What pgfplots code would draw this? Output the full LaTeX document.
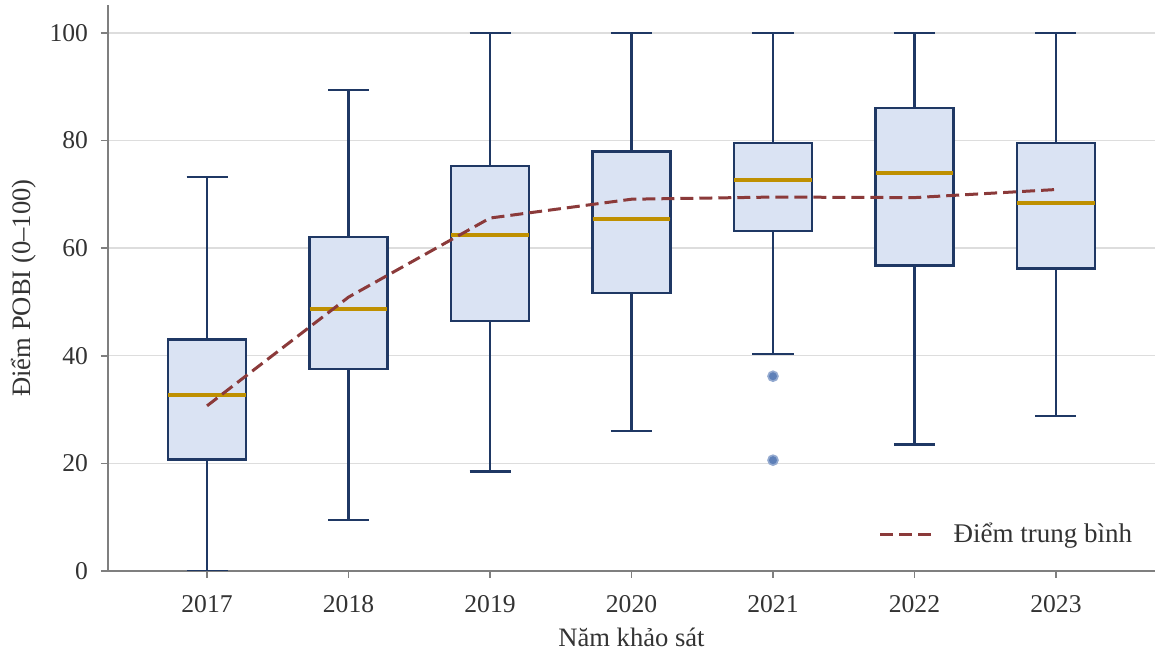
\documentclass[border=0pt]{standalone}
\usepackage{pgfplots}
\pgfplotsset{compat=1.18}
\usepgfplotslibrary{statistics}
\usepackage{fontspec}
\setmainfont{Liberation Serif}

\definecolor{boxedge}{HTML}{1F3864}
\definecolor{boxfill}{HTML}{DAE3F3}
\definecolor{medcol}{HTML}{BF9000}
\definecolor{meancol}{HTML}{8B3A3A}
\definecolor{outcol}{HTML}{4C72B0}
\definecolor{spine}{HTML}{7F7F7F}
\definecolor{txt}{HTML}{333333}
\definecolor{gridc}{HTML}{DDDDDD}

% box statistics per survey year: pos, lw, q1, med, q3, uw
\pgfplotstableread{
pos lw   q1   med  q3   uw
0   0.0  20.7 32.8 43.0 73.3
1   9.5  37.5 48.7 62.1 89.4
2   18.5 46.5 62.5 75.3 100
3   26.0 51.7 65.5 78.0 100
4   40.4 63.2 72.6 79.6 100
5   23.5 56.8 74.0 86.1 100
6   28.8 56.2 68.4 79.6 100
}\boxdata

\newcommand{\yearbox}[1]{%
  \pgfplotstablegetelem{#1}{lw}\of\boxdata \let\LW\pgfplotsretval
  \pgfplotstablegetelem{#1}{q1}\of\boxdata \let\QA\pgfplotsretval
  \pgfplotstablegetelem{#1}{med}\of\boxdata \let\MD\pgfplotsretval
  \pgfplotstablegetelem{#1}{q3}\of\boxdata \let\QC\pgfplotsretval
  \pgfplotstablegetelem{#1}{uw}\of\boxdata \let\UW\pgfplotsretval
  \edef\tmp{\noexpand\addplot[boxstyle, boxplot prepared={
      draw position=#1, lower whisker=\LW, lower quartile=\QA,
      median=\MD, upper quartile=\QC, upper whisker=\UW}] coordinates {};}%
  \tmp
}

\begin{document}
\begin{tikzpicture}[x=1pt,y=1pt]
\begin{axis}[
  at={(54pt,40.5pt)}, anchor=south west,
  scale only axis, width=523.5pt, height=283pt,
  xmin=-0.7, xmax=6.7, ymin=0, ymax=105.2,
  axis x line*=bottom, axis y line*=left,
  axis line style={-, draw=spine, line width=0.8pt},
  xtick={0,...,6},
  xticklabels={2017,2018,2019,2020,2021,2022,2023},
  ytick={0,20,40,60,80,100},
  tick align=outside, major tick length=3.5pt,
  tick style={draw=spine, line width=0.8pt},
  ymajorgrids, grid style={draw=gridc, line width=0.7pt},
  /pgf/number format/assume math mode=true,
  ticklabel style={font=\fontsize{12.8}{15}\selectfont, text=txt},
  xticklabel style={yshift=-5pt},
  yticklabel style={xshift=-3pt},
  label style={font=\fontsize{13.3}{15}\selectfont, text=txt},
  xlabel={Năm khảo sát},
  ylabel={Điểm POBI (0–100)},
  xlabel style={yshift=-1pt},
  ylabel style={yshift=0pt},
  legend style={draw=none, fill=none, at={(0.988,0.03)}, anchor=south east,
    font=\fontsize{13.5}{15}\selectfont, text=txt},
  legend cell align=left,
  legend image code/.code={\draw[#1] (0pt,0pt) -- (27pt,0pt); \path (34pt,0pt);},
  boxplot/draw direction=y,
  boxstyle/.style={forget plot, solid, draw=boxedge, line width=1.2pt,
    fill=boxfill,
    boxplot/box extend=0.55, boxplot/whisker extend=0.29,
    boxplot/every median/.style={draw=medcol, line width=2pt},
    boxplot/every box/.style={draw=boxedge, fill=boxfill, line width=1.2pt},
    boxplot/every whisker/.style={draw=boxedge, line width=1.1pt}},
]
\yearbox{0}
\yearbox{1}
\yearbox{2}
\yearbox{3}
\yearbox{4}
\yearbox{5}
\yearbox{6}

% outliers in 2021
\addplot[forget plot, only marks, mark=*, mark size=2.5pt,
  mark options={fill=outcol!90, draw=outcol!60, line width=0.8pt}]
  coordinates {(4,36.2) (4,20.6)};

% yearly mean score
\addplot[meancol, line width=1.5pt, dash pattern=on 6.5pt off 3pt]
  coordinates {(0,30.7) (1,50.9) (2,65.6) (3,69.1) (4,69.5) (5,69.4) (6,70.9)};
\addlegendentry{Điểm trung bình}
\end{axis}
\pgfresetboundingbox
\useasboundingbox (0,0) rectangle (577.5pt,326pt);
\end{tikzpicture}
\end{document}
